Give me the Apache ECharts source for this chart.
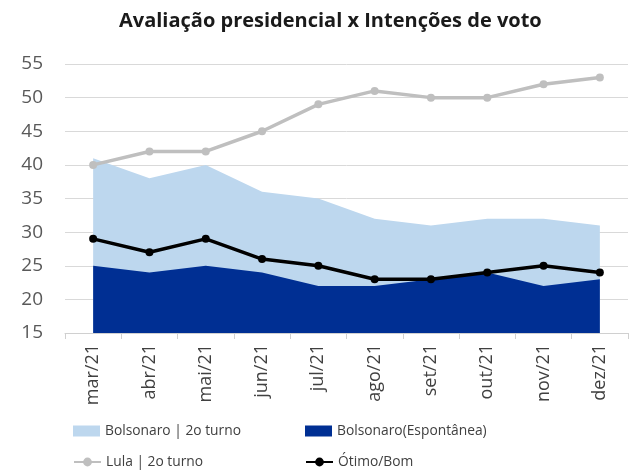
<!DOCTYPE html>
<html>
<head>
<meta charset="utf-8">
<script src="https://cdn.jsdelivr.net/npm/echarts@6/dist/echarts.min.js"></script>
<style>
  html, body { margin: 0; padding: 0; background: #fff; }
  #main { width: 633px; height: 470px; }
</style>
</head>
<body>
<div id="main"></div>
<script>
  var months = ['mar/21', 'abr/21', 'mai/21', 'jun/21', 'jul/21', 'ago/21', 'set/21', 'out/21', 'nov/21', 'dez/21'];
  var bolso2t = [41, 38, 40, 36, 35, 32, 31, 32, 32, 31];
  var bolsoEsp = [25, 24, 25, 24, 22, 22, 23, 24, 22, 23];
  var lula2t = [40, 42, 42, 45, 49, 51, 50, 50, 52, 53];
  var otimoBom = [29, 27, 29, 26, 25, 23, 23, 24, 25, 24];

  var font = '"Open Sans", sans-serif';
  var legendText = { color: '#404040', fontSize: 13.8, fontFamily: font };

  function legendAt(name, left, top, icon) {
    return {
      data: [icon ? { name: name, icon: icon } : name],
      left: left, top: top,
      itemWidth: 27, itemHeight: 11, itemGap: 4,
      textStyle: legendText,
      padding: 0
    };
  }

  var chart = echarts.init(document.getElementById('main'));
  chart.setOption({
    animation: false,
    title: {
      text: 'Avaliação presidencial x Intenções de voto',
      left: 114, top: 6,
      textStyle: { fontSize: 20, fontWeight: 'bold', color: '#1a1a1a', fontFamily: font }
    },
    legend: [
      legendAt('Bolsonaro | 2o turno', 73, 424, 'rect'),
      legendAt('Bolsonaro(Espontânea)', 305, 424, 'rect'),
      legendAt('Lula | 2o turno', 73, 455),
      legendAt('Ótimo/Bom', 305, 455)
    ],
    grid: { left: 65, right: 5, top: 64, bottom: 137, containLabel: false },
    xAxis: {
      type: 'category',
      data: months,
      boundaryGap: true,
      axisLine: { lineStyle: { color: '#d0d0d0' } },
      axisTick: { show: true, length: 6, lineStyle: { color: '#d0d0d0' } },
      axisLabel: { rotate: 90, color: '#404040', fontSize: 18, fontFamily: font, margin: 11 }
    },
    yAxis: {
      type: 'value',
      min: 15, max: 55, interval: 5,
      axisLine: { show: false },
      axisTick: { show: false },
      splitLine: { lineStyle: { color: '#d9d9d9', width: 1 } },
      axisLabel: { color: '#595959', fontSize: 19, fontFamily: font, margin: 22 }
    },
    series: [
      {
        name: 'Bolsonaro | 2o turno', type: 'line', data: bolso2t,
        symbol: 'none', lineStyle: { width: 0 },
        itemStyle: { color: '#BDD7EE' },
        areaStyle: { color: '#BDD7EE', opacity: 1, origin: 'start' }
      },
      {
        name: 'Bolsonaro(Espontânea)', type: 'line', data: bolsoEsp,
        symbol: 'none', lineStyle: { width: 0 },
        itemStyle: { color: '#002F93' },
        areaStyle: { color: '#002F93', opacity: 1, origin: 'start' }
      },
      {
        name: 'Lula | 2o turno', type: 'line', data: lula2t,
        symbol: 'circle', symbolSize: 8,
        lineStyle: { width: 3.5, color: '#BFBFBF' },
        itemStyle: { color: '#BFBFBF' }
      },
      {
        name: 'Ótimo/Bom', type: 'line', data: otimoBom,
        symbol: 'circle', symbolSize: 8,
        lineStyle: { width: 3.5, color: '#000' },
        itemStyle: { color: '#000' }
      }
    ]
  });
</script>
</body>
</html>
